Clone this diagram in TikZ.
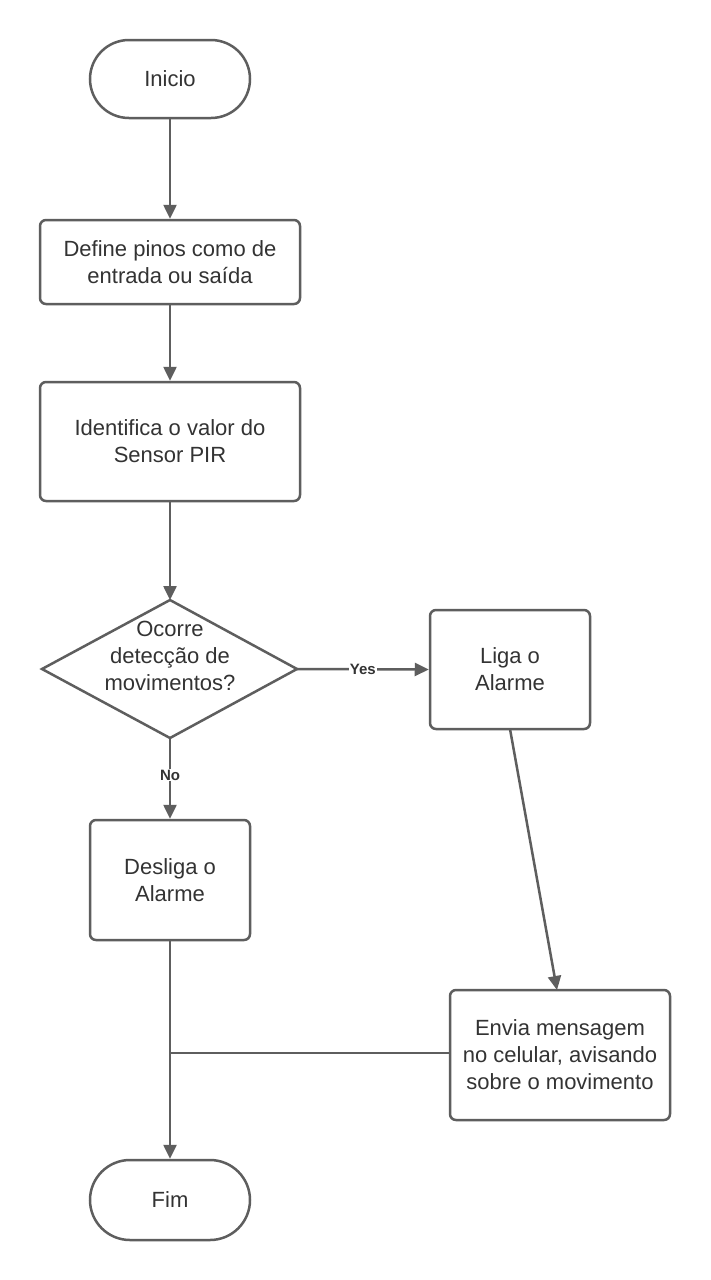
\documentclass[tikz,border=0pt]{standalone}
\usepackage{fontspec}
\setmainfont{Liberation Sans}
\usetikzlibrary{arrows.meta,shapes.geometric}
\definecolor{ln}{HTML}{5E5E5E}
\definecolor{tx}{HTML}{333333}
\tikzset{
  x=1pt,y=-1pt,
  base/.style={draw=ln,line width=2.5pt,text=tx,align=center,inner sep=0pt,
    font=\fontsize{22}{27}\selectfont},
  term/.style={base,rounded corners=39pt,minimum width=160pt,minimum height=78pt},
  proc/.style={base,rounded corners=6pt},
  conn/.style={draw=ln,line width=2.5pt,-{Triangle[length=14pt,width=13pt]}},
  plain/.style={draw=ln,line width=2.5pt},
  lbl/.style={text=tx,font=\fontsize{15}{17}\selectfont\bfseries,fill=white,inner sep=1pt}
}
\begin{document}
\begin{tikzpicture}
\path[use as bounding box,fill=white] (0,0) rectangle (710,1280);
\node[term] (ini) at (170,79) {Inicio};
\node[proc,minimum width=260pt,minimum height=84pt] (def) at (170,262) {Define pinos como de\\entrada ou saída};
\node[proc,minimum width=260pt,minimum height=119pt] (idf) at (170,441.5) {Identifica o valor do\\Sensor PIR};
\path[base,draw] (170,600) -- (297,669) -- (170,738) -- (42,669) -- cycle;
\node[text=tx,align=center,font=\fontsize{22}{27}\selectfont] (dec) at (170,656) {Ocorre\\detecção de\\movimentos?};
\coordinate (dtop) at (170,600);
\coordinate (dright) at (297,669);
\coordinate (dbot) at (170,738);
\node[proc,minimum width=160pt,minimum height=119pt] (liga) at (510,669.5) {Liga o\\Alarme};
\node[proc,minimum width=160pt,minimum height=120pt] (desl) at (170,880) {Desliga o\\Alarme};
\node[proc,minimum width=220pt,minimum height=130pt] (env) at (560,1055) {Envia mensagem\\no celular, avisando\\sobre o movimento};
\node[term,minimum height=80pt,rounded corners=40pt] (fim) at (170,1200) {Fim};
\draw[conn] (ini.south) -- (def.north);
\draw[conn] (def.south) -- (idf.north);
\draw[conn] (idf.south) -- (dtop);
\draw[conn] (dright) -- node[lbl,pos=0.5] {Yes} (liga.west);
\draw[conn] (dbot) -- node[lbl,pos=0.46] {No} (desl.north);
\draw[conn] (510,729) -- (557,990);
\draw[conn] (desl.south) -- (fim.north);
\coordinate (jn) at (170,1053);
\draw[plain] (env.west |- jn) -- (jn);
\end{tikzpicture}
\end{document}
